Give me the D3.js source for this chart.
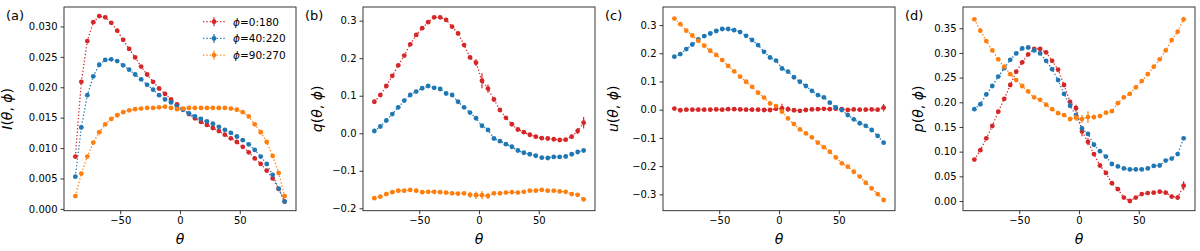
<!DOCTYPE html>
<html>
<head>
<meta charset="utf-8">
<script src="https://cdn.jsdelivr.net/npm/d3@7"></script>
<style>
body { margin: 0; background: #fff; }
text { font-family: "DejaVu Sans", sans-serif; fill: #000; }
</style>
</head>
<body>
<div id="container"></div>
<script>
// scattering angle (deg), same for every panel
var theta = [-87.5, -82.5, -77.5, -72.5, -67.5, -62.5, -57.5, -52.5, -47.5, -42.5, -37.5, -32.5,
    -27.5, -22.5, -17.5, -12.5, -7.5, -2.5, 2.5, 7.5, 12.5, 17.5, 22.5, 27.5,
    32.5, 37.5, 42.5, 47.5, 52.5, 57.5, 62.5, 67.5, 72.5, 77.5, 82.5, 87.5];

var seriesNames = ["0:180", "40:220", "90:270"];

// (a) intensity
var iRed = [0.0086, 0.0209, 0.0276, 0.0307, 0.0317, 0.0315, 0.0306, 0.0293, 0.0278, 0.0263, 0.0249, 0.0234,
    0.0221, 0.0209, 0.0198, 0.0189, 0.0180, 0.0172, 0.0164, 0.0156, 0.0149, 0.0143, 0.0138, 0.0133,
    0.0128, 0.0122, 0.0116, 0.0110, 0.0102, 0.0093, 0.0083, 0.0074, 0.0063, 0.0050, 0.0033, 0.0012];
var iBlue = [0.0053, 0.0134, 0.0187, 0.0218, 0.0237, 0.0245, 0.0246, 0.0243, 0.0236, 0.0229, 0.0221, 0.0213,
    0.0204, 0.0196, 0.0187, 0.0180, 0.0175, 0.0168, 0.0163, 0.0157, 0.0152, 0.0148, 0.0144, 0.0140,
    0.0135, 0.0130, 0.0125, 0.0119, 0.0113, 0.0106, 0.0097, 0.0086, 0.0074, 0.0056, 0.0033, 0.0012];
var iOrange = [0.0021, 0.0058, 0.0086, 0.0109, 0.0126, 0.0139, 0.0148, 0.0154, 0.0159, 0.0162, 0.0164, 0.0165,
    0.0166, 0.0166, 0.0167, 0.0168, 0.0166, 0.0164, 0.0165, 0.0166, 0.0166, 0.0166, 0.0166, 0.0166,
    0.0166, 0.0166, 0.0165, 0.0163, 0.0159, 0.0152, 0.0139, 0.0126, 0.0110, 0.0087, 0.0059, 0.0021];

// (b) q
var qRed = [0.084, 0.102, 0.126, 0.153, 0.181, 0.207, 0.237, 0.262, 0.280, 0.296, 0.309, 0.309,
    0.302, 0.284, 0.266, 0.235, 0.202, 0.188, 0.140, 0.119, 0.090, 0.062, 0.041, 0.024,
    0.010, 0.003, -0.004, -0.009, -0.013, -0.014, -0.016, -0.018, -0.017, -0.009, 0.006, 0.028];
var qBlue = [0.006, 0.018, 0.034, 0.051, 0.069, 0.087, 0.102, 0.111, 0.120, 0.126, 0.121, 0.118,
    0.106, 0.102, 0.084, 0.069, 0.055, 0.040, 0.020, 0.009, -0.014, -0.021, -0.029, -0.036,
    -0.046, -0.052, -0.056, -0.060, -0.065, -0.066, -0.063, -0.063, -0.062, -0.056, -0.050, -0.046];
var qOrange = [-0.173, -0.169, -0.162, -0.157, -0.153, -0.153, -0.151, -0.153, -0.157, -0.156, -0.156, -0.157,
    -0.158, -0.160, -0.161, -0.160, -0.164, -0.165, -0.165, -0.167, -0.160, -0.160, -0.158, -0.157,
    -0.158, -0.156, -0.153, -0.153, -0.151, -0.153, -0.153, -0.155, -0.156, -0.162, -0.164, -0.176];

// (c) u
var uRed = [0.004, -0.002, 0.000, 0.000, 0.000, 0.000, 0.000, 0.001, 0.000, 0.002, 0.002, 0.001,
    0.000, 0.000, 0.000, -0.001, -0.001, 0.003, 0.005, 0.002, -0.002, -0.004, -0.001, 0.001,
    0.002, 0.003, 0.002, 0.003, 0.002, -0.001, 0.001, 0.000, 0.000, 0.001, 0.000, 0.007];
var uBlue = [0.188, 0.197, 0.215, 0.231, 0.249, 0.261, 0.270, 0.279, 0.286, 0.286, 0.282, 0.275,
    0.262, 0.247, 0.229, 0.205, 0.185, 0.174, 0.146, 0.135, 0.115, 0.099, 0.084, 0.067,
    0.052, 0.044, 0.025, 0.008, -0.001, -0.019, -0.034, -0.048, -0.057, -0.072, -0.093, -0.117];
var uOrange = [0.323, 0.303, 0.280, 0.263, 0.244, 0.227, 0.209, 0.194, 0.176, 0.155, 0.136, 0.117,
    0.099, 0.081, 0.060, 0.043, 0.022, 0.013, -0.007, -0.031, -0.051, -0.070, -0.084, -0.098,
    -0.117, -0.133, -0.149, -0.169, -0.190, -0.202, -0.220, -0.237, -0.259, -0.279, -0.299, -0.320];

// (d) p
var pRed = [0.084, 0.103, 0.127, 0.152, 0.181, 0.207, 0.235, 0.262, 0.281, 0.297, 0.308, 0.308,
    0.301, 0.284, 0.266, 0.235, 0.201, 0.188, 0.141, 0.120, 0.095, 0.072, 0.057, 0.036,
    0.024, 0.007, 0.000, 0.007, 0.014, 0.016, 0.017, 0.019, 0.017, 0.009, 0.007, 0.031];
var pBlue = [0.186, 0.196, 0.216, 0.233, 0.252, 0.269, 0.286, 0.299, 0.309, 0.311, 0.305, 0.299,
    0.284, 0.267, 0.245, 0.217, 0.193, 0.174, 0.147, 0.136, 0.114, 0.101, 0.090, 0.075,
    0.070, 0.066, 0.064, 0.064, 0.064, 0.066, 0.071, 0.072, 0.082, 0.086, 0.095, 0.127];
var pOrange = [0.368, 0.345, 0.324, 0.305, 0.287, 0.272, 0.257, 0.245, 0.233, 0.222, 0.210, 0.205,
    0.195, 0.186, 0.178, 0.174, 0.166, 0.169, 0.166, 0.170, 0.170, 0.172, 0.179, 0.182,
    0.198, 0.210, 0.217, 0.230, 0.243, 0.257, 0.272, 0.287, 0.305, 0.326, 0.343, 0.368];

// error bars (half widths) where they are visible
var errQRed = [0.004, 0.004, 0.004, 0.004, 0.004, 0.004, 0.004, 0.004, 0.004, 0.004, 0.004, 0.004,
    0.004, 0.004, 0.004, 0.004, 0.005, 0.009, 0.020, 0.011, 0.005, 0.004, 0.004, 0.004,
    0.004, 0.004, 0.004, 0.004, 0.004, 0.004, 0.004, 0.004, 0.004, 0.005, 0.008, 0.015];
var errQOrange = [0.004, 0.004, 0.004, 0.004, 0.004, 0.004, 0.004, 0.004, 0.004, 0.004, 0.004, 0.004,
    0.004, 0.004, 0.004, 0.004, 0.008, 0.010, 0.011, 0.008, 0.004, 0.004, 0.004, 0.004,
    0.004, 0.004, 0.004, 0.004, 0.004, 0.004, 0.004, 0.004, 0.004, 0.004, 0.004, 0.005];
var errURed = [0.004, 0.004, 0.004, 0.004, 0.004, 0.004, 0.004, 0.004, 0.004, 0.004, 0.004, 0.004,
    0.004, 0.004, 0.004, 0.004, 0.005, 0.008, 0.016, 0.009, 0.004, 0.004, 0.004, 0.004,
    0.004, 0.004, 0.004, 0.004, 0.004, 0.004, 0.004, 0.004, 0.004, 0.004, 0.006, 0.013];
var errPRed = [0.003, 0.003, 0.003, 0.003, 0.003, 0.003, 0.003, 0.003, 0.003, 0.003, 0.003, 0.003,
    0.003, 0.003, 0.003, 0.003, 0.004, 0.007, 0.010, 0.007, 0.004, 0.003, 0.003, 0.003,
    0.003, 0.003, 0.003, 0.003, 0.003, 0.003, 0.003, 0.003, 0.003, 0.004, 0.005, 0.009];
var errPOrange = [0.003, 0.003, 0.003, 0.003, 0.003, 0.003, 0.003, 0.003, 0.003, 0.003, 0.003, 0.003,
    0.003, 0.003, 0.003, 0.003, 0.005, 0.007, 0.008, 0.012, 0.005, 0.003, 0.003, 0.003,
    0.003, 0.003, 0.003, 0.003, 0.003, 0.003, 0.003, 0.003, 0.003, 0.003, 0.004, 0.005];

var ticksA = [0, 0.005, 0.010, 0.015, 0.020, 0.025, 0.030];
var ticksB = [-0.2, -0.1, 0, 0.1, 0.2, 0.3];
var ticksC = [-0.3, -0.2, -0.1, 0, 0.1, 0.2, 0.3];
var ticksD = [0, 0.05, 0.10, 0.15, 0.20, 0.25, 0.30, 0.35];
var ticksX = [-50, 0, 50];

var colors = ["#d62728", "#1f77b4", "#ff7f0e"];

var width = 1200, height = 251;
var plotTop = 7, plotBottom = 210.7, panelW = 232;

var svg = d3.select("#container")
    .append("svg")
    .attr("width", width)
    .attr("height", height);

svg.append("rect").attr("width", width).attr("height", height).attr("fill", "#fff");

var panels = [
    {tag: "(a)", sym: "I", left: 64, ydom: [-0.0003, 0.0332], ticks: ticksA, fmt: ".3f", labOff: 52,
        ys: [iRed, iBlue, iOrange], errs: [null, null, null], defErr: 0.0002, legend: true},
    {tag: "(b)", sym: "q", left: 363, ydom: [-0.2064, 0.3365], ticks: ticksB, fmt: ".1f", labOff: 41,
        ys: [qRed, qBlue, qOrange], errs: [errQRed, null, errQOrange], defErr: 0.004},
    {tag: "(c)", sym: "u", left: 663, ydom: [-0.358, 0.364], ticks: ticksC, fmt: ".1f", labOff: 45,
        ys: [uRed, uBlue, uOrange], errs: [errURed, null, null], defErr: 0.004},
    {tag: "(d)", sym: "p", left: 963, ydom: [-0.0196, 0.393], ticks: ticksD, fmt: ".2f", labOff: 40,
        ys: [pRed, pBlue, pOrange], errs: [errPRed, null, errPOrange], defErr: 0.003}
];

panels.forEach(function (p) {
    var x = d3.scaleLinear().domain([-97, 97]).range([p.left, p.left + panelW]);
    var y = d3.scaleLinear().domain(p.ydom).range([plotBottom, plotTop]);
    var g = svg.append("g");

    // series: dotted line, error bars, markers
    p.ys.forEach(function (vals, k) {
        var pts = theta.map(function (t, i) {
            return {t: t, v: vals[i], e: p.errs[k] ? p.errs[k][i] : p.defErr};
        });
        g.append("path")
            .datum(pts)
            .attr("fill", "none")
            .attr("stroke", colors[k])
            .attr("stroke-width", 1.3)
            .attr("stroke-dasharray", "1.3,2.1")
            .attr("d", d3.line().x(function (d) { return x(d.t); }).y(function (d) { return y(d.v); }));
        g.selectAll(null)
            .data(pts)
            .enter()
            .append("line")
            .attr("x1", function (d) { return x(d.t); })
            .attr("x2", function (d) { return x(d.t); })
            .attr("y1", function (d) { return y(d.v - d.e); })
            .attr("y2", function (d) { return y(d.v + d.e); })
            .attr("stroke", colors[k])
            .attr("stroke-width", 1.2);
        g.selectAll(null)
            .data(pts)
            .enter()
            .append("circle")
            .attr("cx", function (d) { return x(d.t); })
            .attr("cy", function (d) { return y(d.v); })
            .attr("r", 2.4)
            .attr("fill", colors[k]);
    });

    // frame
    g.append("rect")
        .attr("x", p.left)
        .attr("y", plotTop)
        .attr("width", panelW)
        .attr("height", plotBottom - plotTop)
        .attr("fill", "none")
        .attr("stroke", "#222")
        .attr("stroke-width", 0.9);

    var xAxis = g.append("g")
        .attr("transform", "translate(0," + plotBottom + ")")
        .call(d3.axisBottom(x).tickValues(ticksX).tickSize(3.5).tickPadding(3).tickFormat(d3.format("d")));
    var yAxis = g.append("g")
        .attr("transform", "translate(" + p.left + ",0)")
        .call(d3.axisLeft(y).tickValues(p.ticks).tickSize(3.5).tickPadding(3).tickFormat(d3.format(p.fmt)));
    [xAxis, yAxis].forEach(function (a) {
        a.select(".domain").remove();
        a.selectAll("line").attr("stroke", "#222").attr("stroke-width", 0.9);
        a.selectAll("text").attr("font-size", 10).attr("font-family", "DejaVu Sans").attr("fill", "#000");
    });

    // panel tag
    svg.append("text")
        .attr("x", p.left - 58)
        .attr("y", 20)
        .attr("font-size", 13)
        .text(p.tag);

    // x label
    svg.append("text")
        .attr("x", p.left + panelW / 2)
        .attr("y", 244)
        .attr("text-anchor", "middle")
        .attr("font-size", 14)
        .attr("font-style", "italic")
        .text("θ");

    // y label
    var yl = svg.append("text")
        .attr("transform", "translate(" + (p.left - p.labOff) + "," + ((plotTop + plotBottom) / 2) + ") rotate(-90)")
        .attr("text-anchor", "middle")
        .attr("font-size", 14);
    yl.append("tspan").attr("font-style", "italic").text(p.sym);
    yl.append("tspan").text("(");
    yl.append("tspan").attr("font-style", "italic").text("θ");
    yl.append("tspan").text(", ");
    yl.append("tspan").attr("font-style", "italic").text("ϕ");
    yl.append("tspan").text(")");

    if (p.legend) {
        var leg = svg.selectAll(null)
            .data(seriesNames)
            .enter()
            .append("g")
            .attr("transform", function (d, i) { return "translate(0," + (21.7 + i * 16.7) + ")"; });
        leg.append("line")
            .attr("x1", 203).attr("x2", 225).attr("y1", 0).attr("y2", 0)
            .attr("stroke", function (d, i) { return colors[i]; })
            .attr("stroke-width", 1.3)
            .attr("stroke-dasharray", "1.3,2.1");
        leg.append("line")
            .attr("x1", 214).attr("x2", 214).attr("y1", -4.5).attr("y2", 4.5)
            .attr("stroke", function (d, i) { return colors[i]; })
            .attr("stroke-width", 1.2);
        leg.append("circle")
            .attr("cx", 214).attr("cy", 0).attr("r", 2.4)
            .attr("fill", function (d, i) { return colors[i]; });
        var lt = leg.append("text")
            .attr("x", 233)
            .attr("y", 3.8)
            .attr("font-size", 10.5);
        lt.append("tspan").attr("font-style", "italic").text("ϕ");
        lt.append("tspan").text(function (d) { return "=" + d; });
    }
});
</script>
</body>
</html>
